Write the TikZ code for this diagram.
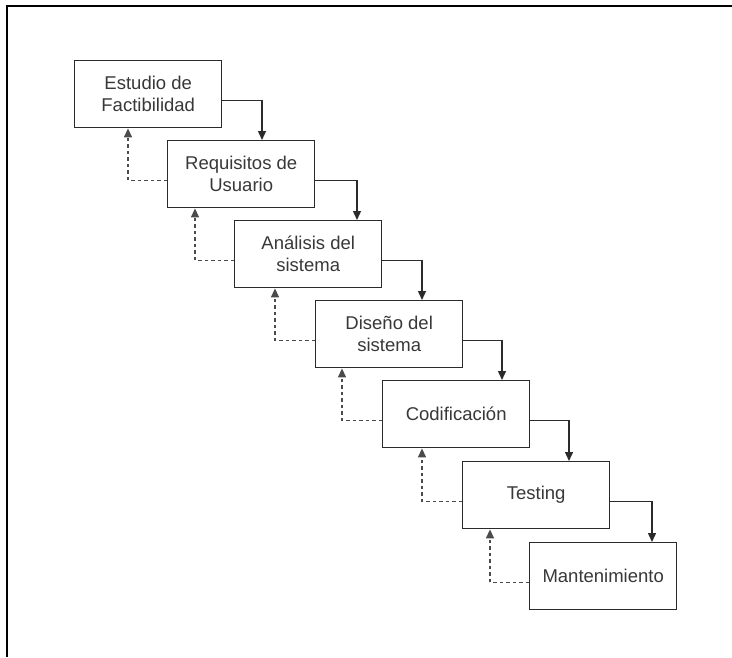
\documentclass[tikz,border=0pt]{standalone}
\usepackage{fontspec}
\setmainfont{Liberation Sans}
\usetikzlibrary{arrows.meta}
\definecolor{ink}{HTML}{2B2B2B}
\definecolor{txt}{HTML}{383838}
\begin{document}
\begin{tikzpicture}[x=1pt,y=-1pt,
  phase/.style={draw=ink, line width=1.4pt, fill=white, anchor=north west,
    minimum width=147pt, minimum height=67pt, inner sep=0pt,
    align=center, text=txt, font=\fontsize{18.5}{22}\selectfont},
  flow/.style={draw=ink, line width=1.4pt,
    -{Triangle[length=9pt,width=8pt]}},
  back/.style={draw=ink!85, line width=1.4pt, dash pattern=on 3.5pt off 3pt,
    -{Triangle[length=9pt,width=8pt]}},
  frame/.style={draw=black, line width=2pt}]
  \useasboundingbox (0,0) rectangle (732,657);

  % open frame: top and left edges
  \draw[frame] (732,6) -- (7,6) -- (7,657);

  % waterfall phases
  \node[phase] (b1) at (74,60)   {Estudio de\\Factibilidad};
  \node[phase] (b2) at (167,140) {Requisitos de\\Usuario};
  \node[phase] (b3) at (234,220) {Análisis del\\sistema};
  \node[phase] (b4) at (315,300) {Diseño del\\sistema};
  \node[phase] (b5) at (382,380) {Codificación};
  \node[phase] (b6) at (462,461) {Testing};
  \node[phase] (b7) at (529,542) {Mantenimiento};

  % forward flow between phases
  \draw[flow] ([yshift=-6pt]b1.east) -| ([xshift=95pt]b2.north west);
  \draw[flow] ([yshift=-6pt]b2.east) -| ([xshift=123pt]b3.north west);
  \draw[flow] ([yshift=-6pt]b3.east) -| ([xshift=107pt]b4.north west);
  \draw[flow] ([yshift=-6pt]b4.east) -| ([xshift=120pt]b5.north west);
  \draw[flow] ([yshift=-6pt]b5.east) -| ([xshift=107pt]b6.north west);
  \draw[flow] ([yshift=-6pt]b6.east) -| ([xshift=123pt]b7.north west);

  % feedback to the previous phase
  \draw[back] ([yshift=-6pt]b2.west) -| ([xshift=54pt]b1.south west);
  \draw[back] ([yshift=-6pt]b3.west) -| ([xshift=28pt]b2.south west);
  \draw[back] ([yshift=-6pt]b4.west) -| ([xshift=41pt]b3.south west);
  \draw[back] ([yshift=-6pt]b5.west) -| ([xshift=27pt]b4.south west);
  \draw[back] ([yshift=-6pt]b6.west) -| ([xshift=40pt]b5.south west);
  \draw[back] ([yshift=-6pt]b7.west) -| ([xshift=28pt]b6.south west);
\end{tikzpicture}
\end{document}
